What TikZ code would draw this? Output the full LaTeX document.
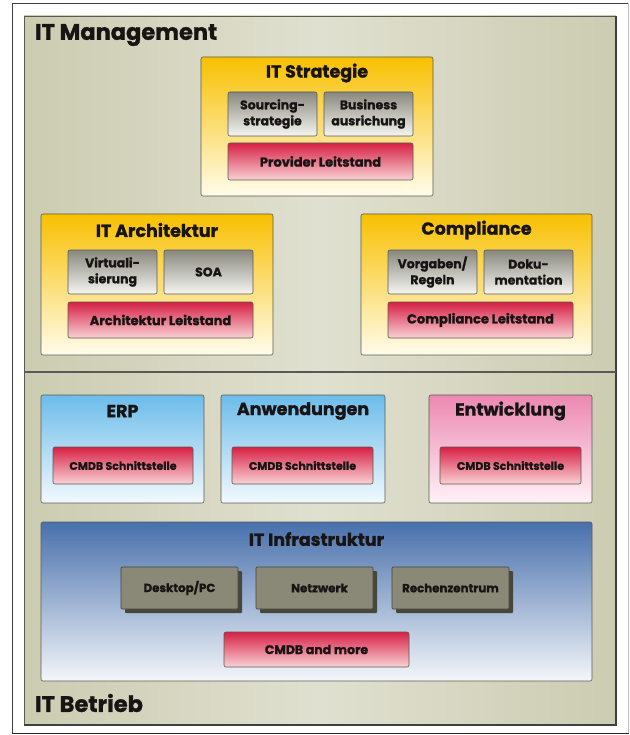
\documentclass[tikz,border=0pt]{standalone}
\usepackage{fontspec}
\setmainfont{Poppins}[BoldFeatures={FakeBold=1.2}]
\definecolor{beigeD}{RGB}{204,204,178}
\definecolor{beigeL}{RGB}{224,224,208}
\definecolor{yTop}{RGB}{248,192,0}
\definecolor{yBot}{RGB}{255,252,236}
\definecolor{gTop}{RGB}{136,136,126}
\definecolor{gBot}{RGB}{246,246,242}
\definecolor{rTop}{RGB}{214,32,68}
\definecolor{rBot}{RGB}{249,210,214}
\definecolor{bTop}{RGB}{108,188,234}
\definecolor{bBot}{RGB}{242,249,254}
\definecolor{pTop}{RGB}{236,136,178}
\definecolor{pBot}{RGB}{255,242,247}
\definecolor{iTop}{RGB}{72,112,172}
\definecolor{iBot}{RGB}{244,246,250}
\definecolor{olive}{RGB}{138,136,118}
\definecolor{oliveS}{RGB}{70,70,60}
\definecolor{txt}{RGB}{24,20,20}
\definecolor{edge}{RGB}{90,90,80}
\tikzset{
  every node/.style={inner sep=0pt, outer sep=0pt, text=txt},
  panel/.style={draw=edge, line width=0.6pt, rounded corners=2pt},
  ybox/.style={panel, top color=yTop, bottom color=yBot},
  gbox/.style={panel, top color=gTop, bottom color=gBot, font=\bfseries\fontsize{12.5}{16}\selectfont, align=center},
  rbox/.style={panel, top color=rTop, bottom color=rBot, font=\bfseries\fontsize{13}{14}\selectfont, align=center},
  rsmall/.style={rbox, font=\bfseries\fontsize{11}{12}\selectfont},
  bbox/.style={panel, top color=bTop, bottom color=bBot},
  pbox/.style={panel, top color=pTop, bottom color=pBot},
  ibox/.style={panel, top color=iTop, bottom color=iBot},
  obox/.style={draw=oliveS, line width=0.7pt, fill=olive, rounded corners=1pt, font=\bfseries\fontsize{11.8}{13}\selectfont},
  oshadow/.style={fill=oliveS, rounded corners=1pt},
  bigtitle/.style={font=\bfseries\fontsize{22.5}{25}\selectfont, anchor=west},
  boxtitle/.style={font=\bfseries\fontsize{17.5}{20}\selectfont},
}
\begin{document}
\begin{tikzpicture}[x=1pt,y=-1pt]
\useasboundingbox (0,0) rectangle (629,735);
\fill[white] (0,0) rectangle (629,735);
% outer frame
\draw[black!75, line width=0.9pt] (12,733) -- (12,3) -- (628.5,3);
\draw[black!85, line width=1pt] (12,733) -- (628.5,733);
\draw[black!25, line width=0.8pt] (628.5,3) -- (628.5,733);
% beige panel
\shade[left color=beigeD, right color=beigeD, middle color=beigeL] (24,16) rectangle (616,725);
\draw[edge, line width=0.7pt] (24,725) -- (24,16) -- (616,16);
\draw[black!75, line width=1.4pt] (616,16) -- (616,725) -- (24,725);
\draw[black!65, line width=1.2pt] (24,372) -- (616,372);
\node[bigtitle] (mgmt) at (35,35) {IT Management};
\node[bigtitle] (betr) at (35,703) {IT Betrieb};
% IT Strategie
\node[ybox, minimum width=232pt, minimum height=139pt] (strat) at (317,126.5) {};
\node[boxtitle] (stratT) at (317,73) {IT Strategie};
\node[gbox, minimum width=89pt, minimum height=44pt] (s1) at (272.5,114) {Sourcing-\\strategie};
\node[gbox, minimum width=89pt, minimum height=44pt] (s2) at (368.5,114) {Business\\ausrichung};
\node[rbox, minimum width=185pt, minimum height=37pt] (sr) at (320.5,161.5) {Provider Leitstand};
% IT Architektur
\node[ybox, minimum width=232pt, minimum height=141pt] (arch) at (157,284.5) {};
\node[boxtitle] (archT) at (157,230) {IT Architektur};
\node[gbox, minimum width=89pt, minimum height=44pt] (a1) at (112.5,272) {Virtuali-\\sierung};
\node[gbox, minimum width=89pt, minimum height=44pt] (a2) at (208.5,272) {SOA};
\node[rbox, minimum width=185pt, minimum height=36pt] (ar) at (160.5,320) {Architektur Leitstand};
% Compliance
\node[ybox, minimum width=231pt, minimum height=141pt] (comp) at (476.5,284.5) {};
\node[boxtitle] (compT) at (476.5,230) {Compliance};
\node[gbox, minimum width=89pt, minimum height=44pt] (c1) at (432.5,272) {Vorgaben/\\Regeln};
\node[gbox, minimum width=89pt, minimum height=44pt] (c2) at (528.5,272) {Doku-\\mentation};
\node[rbox, minimum width=185pt, minimum height=36pt] (cr) at (480.5,320) {Compliance Leitstand};
% ERP, Anwendungen, Entwicklung
\node[bbox, minimum width=163pt, minimum height=108pt] (erp) at (122.5,449) {};
\node[boxtitle] (erpT) at (122.5,411) {ERP};
\node[rsmall, minimum width=140pt, minimum height=37pt] (erpR) at (123,465.5) {CMDB Schnittstelle};
\node[bbox, minimum width=164pt, minimum height=108pt] (anw) at (303,449) {};
\node[boxtitle] (anwT) at (303,411) {Anwendungen};
\node[rsmall, minimum width=141pt, minimum height=37pt] (anwR) at (302.5,465.5) {CMDB Schnittstelle};
\node[pbox, minimum width=163pt, minimum height=108pt] (ent) at (510.5,449) {};
\node[boxtitle] (entT) at (510.5,411) {Entwicklung};
\node[rsmall, minimum width=141pt, minimum height=37pt] (entR) at (510.5,465.5) {CMDB Schnittstelle};
% IT Infrastruktur
\node[ibox, minimum width=551pt, minimum height=159pt] (infra) at (316.5,601.5) {};
\node[boxtitle] (infraT) at (316.5,539) {IT Infrastruktur};
\foreach \n/\cx/\t in {desk/179.5/Desktop\slash PC, netz/314.5/\hspace*{10pt}Netzwerk, rech/450.5/Rechenzentrum}{
  \fill[oshadow] (\cx-58.5+4,567+4) rectangle (\cx+58.5+4,609+4);
  \node[obox, minimum width=117pt, minimum height=42pt] (\n) at (\cx,588) {\t};
}
\node[rbox, font=\bfseries\fontsize{12.5}{14}\selectfont, minimum width=185pt, minimum height=35pt] (cmdb) at (316.5,649.5) {CMDB and more};
\end{tikzpicture}
\end{document}
